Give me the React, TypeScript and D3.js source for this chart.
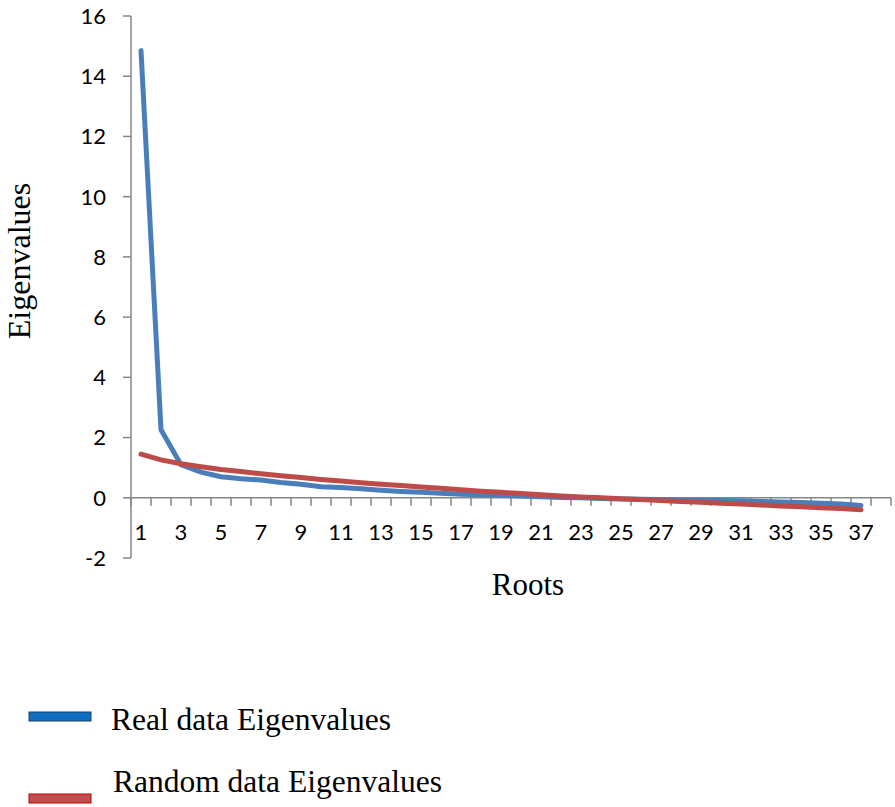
import React, { useRef, useEffect } from 'react';
import * as d3 from 'd3';

// x categories (root number); the last slot is empty, as in the source sheet
const roots = [
  1, 2, 3, 4, 5, 6, 7, 8, 9, 10, 11, 12, 13, 14, 15, 16, 17, 18, 19,
  20, 21, 22, 23, 24, 25, 26, 27, 28, 29, 30, 31, 32, 33, 34, 35, 36, 37, 38,
];

const realEigen = [
  14.85, 2.26, 1.1, 0.85, 0.7, 0.63, 0.59, 0.51, 0.45, 0.37, 0.34, 0.3, 0.25,
  0.21, 0.18, 0.15, 0.12, 0.1, 0.08, 0.06, 0.03, 0.01, 0.0, -0.02, -0.04,
  -0.05, -0.06, -0.07, -0.08, -0.09, -0.1, -0.12, -0.14, -0.16, -0.18, -0.21,
  -0.26,
];

const randomEigen = [
  1.45, 1.26, 1.13, 1.03, 0.94, 0.87, 0.8, 0.73, 0.67, 0.61, 0.56, 0.5, 0.45,
  0.41, 0.36, 0.32, 0.27, 0.22, 0.18, 0.14, 0.1, 0.06, 0.03, 0.0, -0.03, -0.06,
  -0.09, -0.12, -0.15, -0.18, -0.21, -0.24, -0.27, -0.3, -0.33, -0.36, -0.4,
];

const yTicks = [-2, 0, 2, 4, 6, 8, 10, 12, 14, 16];

const seriesNames = ['Real data Eigenvalues', 'Random data Eigenvalues'];

const EigenChart = ({ width = 895, height = 807 }) => {
  const svgRef = useRef(null);

  useEffect(() => {
    if (!svgRef.current) return;
    document.body.style.margin = '0';

    const svg = d3.select(svgRef.current);
    svg.selectAll('*').remove();

    const axisColor = '#868686';
    const tickFont = 'Lato, "Open Sans", sans-serif';
    const serif = '"Liberation Serif", "Times New Roman", serif';

    // Scales
    const xScale = d3.scaleBand()
      .domain(roots.map(String))
      .range([131, 891]);

    const yScale = d3.scaleLinear()
      .domain([-2, 16])
      .range([558, 16]);

    const cx = (i) => xScale(String(roots[i])) + xScale.bandwidth() / 2;

    // Y axis
    const yAxis = svg.append('g');
    yAxis.append('line')
      .attr('x1', 131).attr('x2', 131)
      .attr('y1', yScale(16)).attr('y2', yScale(-2))
      .attr('stroke', axisColor).attr('stroke-width', 1.5);

    yAxis.selectAll('.ytick')
      .data(yTicks)
      .enter()
      .append('line')
      .attr('x1', 123).attr('x2', 131)
      .attr('y1', d => yScale(d)).attr('y2', d => yScale(d))
      .attr('stroke', axisColor).attr('stroke-width', 1.5);

    yAxis.selectAll('.ylabel')
      .data(yTicks)
      .enter()
      .append('text')
      .attr('x', 106)
      .attr('y', d => yScale(d))
      .attr('dy', '0.36em')
      .attr('text-anchor', 'end')
      .style('font-family', tickFont)
      .style('font-size', '22px')
      .attr('fill', '#000')
      .text(d => d);

    // X axis at value 0, ticks on category boundaries
    const xAxis = svg.append('g');
    const y0 = yScale(0);
    xAxis.append('line')
      .attr('x1', 131).attr('x2', 891)
      .attr('y1', y0).attr('y2', y0)
      .attr('stroke', axisColor).attr('stroke-width', 1.5);

    const boundaries = roots.map(r => xScale(String(r))).concat([xScale.range()[1]]);
    xAxis.selectAll('.xtick')
      .data(boundaries)
      .enter()
      .append('line')
      .attr('x1', d => d).attr('x2', d => d)
      .attr('y1', y0).attr('y2', y0 + 8)
      .attr('stroke', axisColor).attr('stroke-width', 1.5);

    xAxis.selectAll('.xlabel')
      .data(roots.filter(r => r % 2 === 1))
      .enter()
      .append('text')
      .attr('x', d => xScale(String(d)) + xScale.bandwidth() / 2)
      .attr('y', 540)
      .attr('text-anchor', 'middle')
      .style('font-family', tickFont)
      .style('font-size', '22px')
      .attr('fill', '#000')
      .text(d => d);

    // Axis titles
    svg.append('text')
      .attr('transform', 'translate(30, 261) rotate(-90)')
      .attr('text-anchor', 'middle')
      .style('font-family', serif)
      .style('font-size', '32px')
      .attr('fill', '#000')
      .text('Eigenvalues');

    svg.append('text')
      .attr('x', 528)
      .attr('y', 595)
      .attr('text-anchor', 'middle')
      .style('font-family', serif)
      .style('font-size', '31px')
      .attr('fill', '#000')
      .text('Roots');

    // Lines
    const line = d3.line()
      .x((d, i) => cx(i))
      .y(d => yScale(d));

    svg.append('path')
      .datum(realEigen)
      .attr('fill', 'none')
      .attr('stroke', '#4a7ebb')
      .attr('stroke-width', 5)
      .attr('stroke-linecap', 'round')
      .attr('d', line);

    svg.append('path')
      .datum(randomEigen)
      .attr('fill', 'none')
      .attr('stroke', '#be4b48')
      .attr('stroke-width', 5)
      .attr('stroke-linecap', 'round')
      .attr('d', line);

    // Legend
    const legend = svg.append('g');
    const legendRows = [
      { name: seriesNames[0], y: 712, fill: '#0e6ebf', stroke: '#1f3f66', tx: 111, ty: 730 },
      { name: seriesNames[1], y: 794, fill: '#c0504d', stroke: '#c00000', tx: 113, ty: 792 },
    ];
    legendRows.forEach(row => {
      legend.append('rect')
        .attr('x', 29).attr('y', row.y)
        .attr('width', 62).attr('height', 9)
        .attr('fill', row.fill)
        .attr('stroke', row.stroke)
        .attr('stroke-width', 1);
      legend.append('text')
        .attr('x', row.tx)
        .attr('y', row.ty)
        .style('font-family', serif)
        .style('font-size', '31.5px')
        .attr('fill', '#000')
        .text(row.name);
    });
  }, [width, height]);

  return (
    <svg ref={svgRef} width={width} height={height} style={{ display: 'block' }} />
  );
};

export default function App() {
  return <EigenChart />;
}
